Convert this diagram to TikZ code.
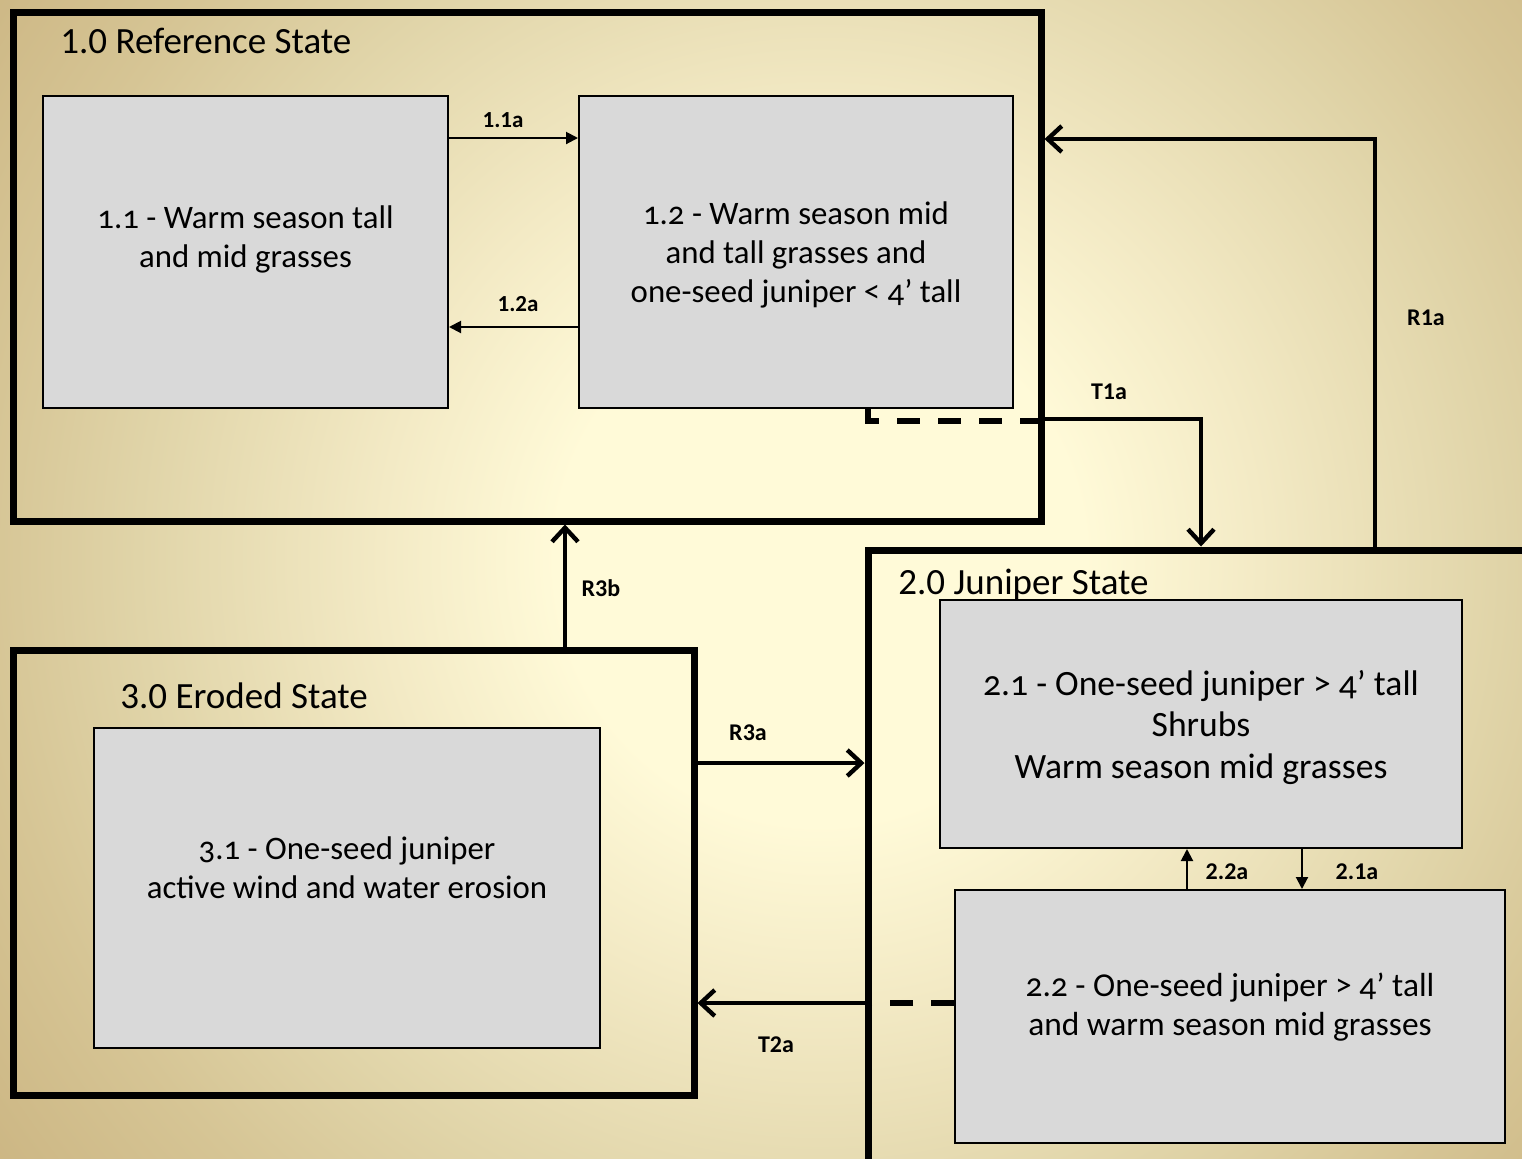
\documentclass[tikz,border=0pt]{standalone}
\usepackage{fontspec}
\setmainfont{Carlito}
\newfontfamily\boxfont[Numbers=OldStyle]{Carlito}
\usetikzlibrary{arrows.meta}

\definecolor{glow0}{HTML}{FFFAD8}
\definecolor{glow1}{HTML}{F3EAC5}
\definecolor{glow2}{HTML}{E0D4A8}
\definecolor{glow3}{HTML}{D6C595}
\definecolor{glow4}{HTML}{C8B07C}
\definecolor{boxgray}{RGB}{217,217,217}
\pgfdeclareradialshading{stateglow}{\pgfpoint{0bp}{0bp}}{color(0bp)=(glow0); color(6bp)=(glow0); color(10bp)=(glow1); color(15.5bp)=(glow2); color(19bp)=(glow3); color(25bp)=(glow4); color(50bp)=(glow4)}

\tikzset{
  state/.style={draw, line width=3.5pt, rectangle, inner sep=0pt},
  substate/.style={draw, line width=1pt, fill=boxgray, align=center, inner sep=0pt,
    text depth=0pt, font=\boxfont\fontsize{16.4}{19.5}\selectfont},
  statetitle/.style={anchor=west, inner sep=0pt, font=\fontsize{18.5}{22}\selectfont},
  tag/.style={inner sep=0pt, font=\bfseries\fontsize{12}{14}\selectfont},
  thinarrow/.style={line width=1pt, -{Triangle[length=6pt,width=6pt]}},
  bigarrow/.style={line width=2.2pt, -{Straight Barb[length=7pt,width=13pt]}},
  dashlink/.style={line width=2.7pt, dash pattern=on 11.5pt off 9pt},
}

\begin{document}
\begin{tikzpicture}[x=0.5pt, y=-0.5pt]
\useasboundingbox (0,0) rectangle (1522,1158);
\begin{scope}
  \clip (0,0) rectangle (1522,1158);
  \shade[shading=stateglow] (820,560) circle (1100);
\end{scope}

% states
\node[state, minimum width=513.75pt, minimum height=254.5pt] (st1) at (527.25,266.5) {};
\node[state, minimum width=416pt, minimum height=375pt] (st2) at (1284,925) {};
\node[state, minimum width=340.25pt, minimum height=222.5pt] (st3) at (353.75,872.5) {};
\node[statetitle] (t1) at (60,41) {1.0 Reference State};
\node[statetitle] (t2) at (898,585) {2.0 Juniper State};
\node[statetitle] (t3) at (120,696) {3.0 Eroded State};

% community phases
\node[substate, minimum width=202.5pt, minimum height=156pt, text depth=15pt] (s11) at (245.5,252)
  {1.1 - Warm season tall\\and mid grasses};
\node[substate, minimum width=217pt, minimum height=156pt] (s12) at (796,252)
  {1.2 - Warm season mid\\and tall grasses and\\one-seed juniper < 4’ tall};
\node[substate, minimum width=261pt, minimum height=124pt,
  font=\boxfont\fontsize{17.8}{20.75}\selectfont] (s21) at (1201,724)
  {2.1 - One-seed juniper > 4’ tall\\Shrubs\\Warm season mid grasses};
\node[substate, minimum width=275pt, minimum height=126.5pt, text depth=12.5pt,
  font=\boxfont\fontsize{16.7}{19.5}\selectfont] (s22) at (1230,1016.5)
  {2.2 - One-seed juniper > 4’ tall\\and warm season mid grasses};
\node[substate, minimum width=253pt, minimum height=160pt, text depth=20.5pt] (s31) at (347,888)
  {3.1 - One-seed juniper\\active wind and water erosion};

% pathways within states
\draw[thinarrow] (s11.east |- 0,138) -- (s12.west |- 0,138);
\draw[thinarrow] (s12.west |- 0,327) -- (s11.east |- 0,327);
\draw[thinarrow] (1187,0 |- s22.north) -- (1187,0 |- s21.south);
\draw[thinarrow] (1302,0 |- s21.south) -- (1302,0 |- s22.north);
\node[tag, font=\bfseries\fontsize{11.5}{14}\selectfont] (l11a) at (503,120) {1.1a};
\node[tag, font=\bfseries\fontsize{11.5}{14}\selectfont] (l12a) at (518,304) {1.2a};
\node[tag] (l22a) at (1227,872) {2.2a};
\node[tag] (l21a) at (1357,872) {2.1a};

% transitions
\draw[dashlink] (s12.south -| 868,0) -- (868,421) -- (st1.east |- 0,421);
\draw[bigarrow] (st1.east |- 0,419) -| (1201,0 |- st2.north);
\draw[dashlink] (s22.west |- 0,1003) -- (st2.west |- 0,1003);
\draw[bigarrow] (st2.west |- 0,1003) -- (st3.east |- 0,1003);
\node[tag] (lT1a) at (1109,392) {T1a};
\node[tag] (lT2a) at (776,1045) {T2a};

% restoration
\draw[bigarrow] (1375,0 |- st2.north) |- (st1.east |- 0,139);
\draw[bigarrow] (565,0 |- st3.north) -- (565,0 |- st1.south);
\draw[bigarrow] (st3.east |- 0,763) -- (st2.west |- 0,763);
\node[tag] (lR1a) at (1426,318) {R1a};
\node[tag] (lR3b) at (601,588) {R3b};
\node[tag] (lR3a) at (748,733) {R3a};
\end{tikzpicture}
\end{document}
